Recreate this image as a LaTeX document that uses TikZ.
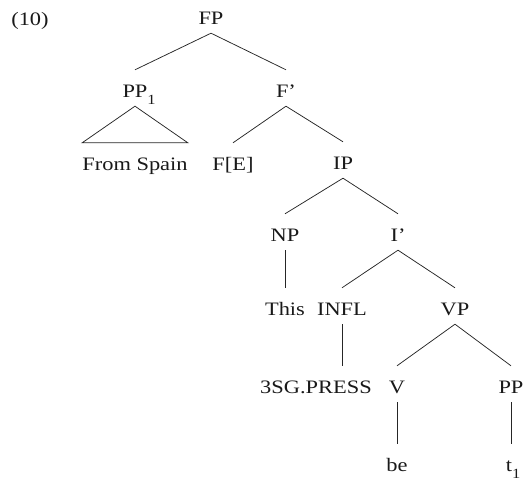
\documentclass[tikz,border=0pt]{standalone}
\usepackage{fontspec}
\setmainfont[FakeStretch=1.18]{Liberation Serif}
\newcommand{\lowsub}[1]{\rlap{\raisebox{-6.5pt}{\fontsize{14}{15}\selectfont #1}}}
\begin{document}
\begin{tikzpicture}[x=1pt,y=-1pt,
  every node/.style={font=\fontsize{19}{21}\selectfont, text=black!90},
  cat/.style={anchor=base, inner xsep=0pt, inner ysep=0pt, text height=28pt, text depth=8pt},
  branch/.style={line width=0.75pt, draw=black!85}]
  \useasboundingbox (0,0) rectangle (523,486);

  % example number
  \node[anchor=base] (exnum) at (30,26) {(10)};

  % tree nodes (y = baseline)
  \node[cat] (FP)   at (211,25)  {FP};
  \node[cat] (PP1)  at (135,98)  {PP\lowsub{1}};
  \node[cat] (Fbar) at (286,98)  {F’};
  \node[cat] (FS)   at (135,171) {From Spain};
  \node[cat] (FE)   at (233,171) {F[E]};
  \node[cat] (IP)   at (343,170) {IP};
  \node[cat] (NP)   at (285,242) {NP};
  \node[cat] (Ibar) at (398,242) {I’};
  \node[cat] (This) at (285,316) {This};
  \node[cat] (INFL) at (342,316) {INFL};
  \node[cat] (VP)   at (455,316) {VP};
  \node[cat] (SG)   at (316,394) {3SG.PRESS};
  \node[cat] (V)    at (397,394) {V};
  \node[cat] (PP)   at (511,394) {PP};
  \node[cat] (be)   at (397,472) {be};
  \node[cat] (t1)   at (509,472) {t\lowsub{1}};

  % branches
  \draw[branch] (FP.south) -- (PP1.north);
  \draw[branch] (FP.south) -- (Fbar.north);
  \draw[branch] (FS.north west) -- (PP1.south) -- (FS.north east) -- cycle;
  \draw[branch] (Fbar.south) -- (FE.north);
  \draw[branch] (Fbar.south) -- (IP.north);
  \draw[branch] (IP.south) -- (NP.north);
  \draw[branch] (IP.south) -- (Ibar.north);
  \draw[branch] (NP.south) -- (This.north);
  \draw[branch] (Ibar.south) -- (INFL.north);
  \draw[branch] (Ibar.south) -- (VP.north);
  \draw[branch] (INFL.south) -- (INFL.south |- SG.north);
  \draw[branch] (VP.south) -- (V.north);
  \draw[branch] (VP.south) -- (PP.north);
  \draw[branch] (V.south) -- (be.north);
  \draw[branch] (PP.south) -- (PP.south |- t1.north);
\end{tikzpicture}
\end{document}
